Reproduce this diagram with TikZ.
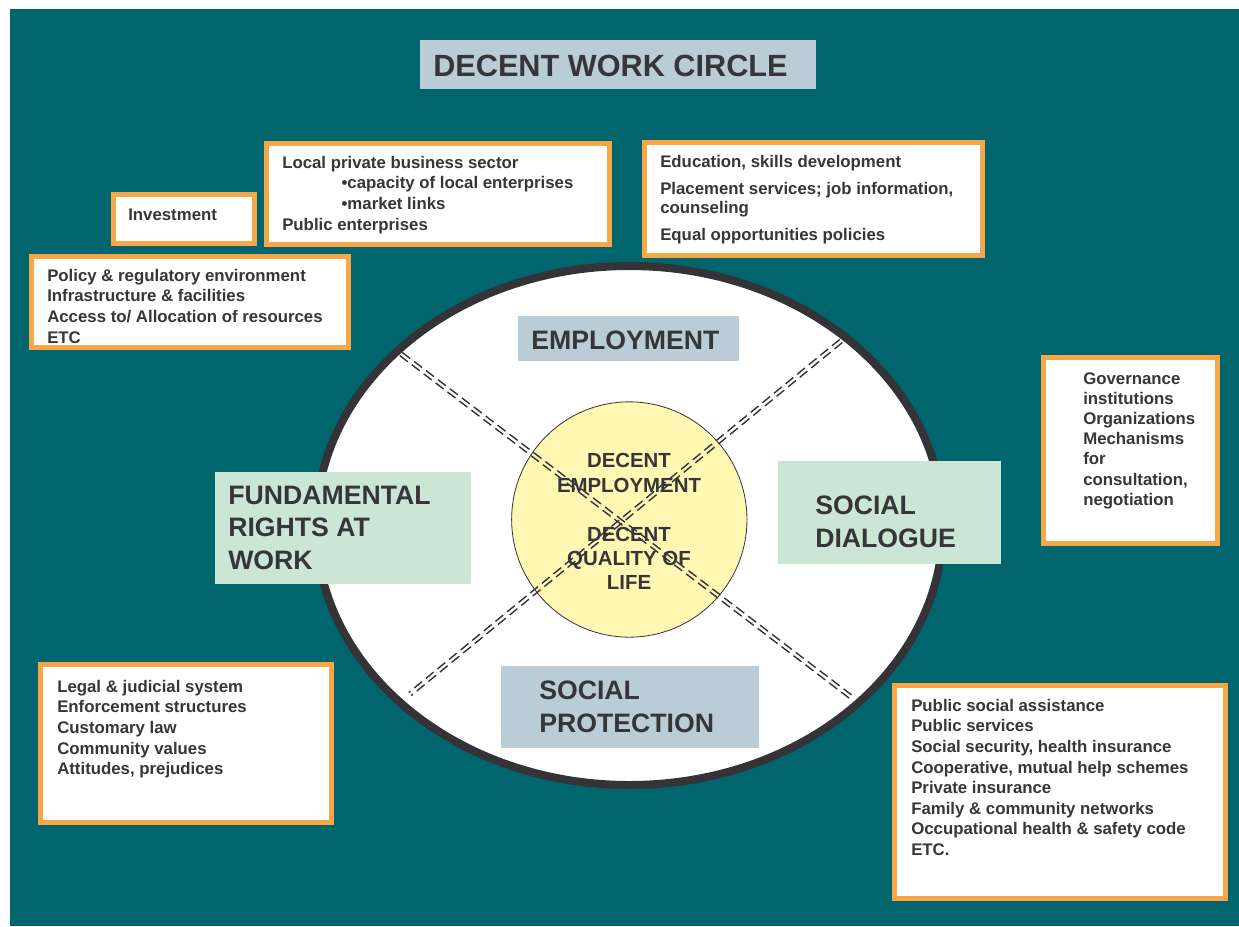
\documentclass[tikz,border=0pt]{standalone}
\usepackage{fontspec}
\setmainfont{Liberation Sans}
\usetikzlibrary{fit,shapes.geometric,calc}
\definecolor{teal0}{RGB}{0,101,108}
\definecolor{orng}{RGB}{247,166,72}
\definecolor{bgrey}{RGB}{186,205,215}
\definecolor{lgreen}{RGB}{204,230,214}
\definecolor{lyellow}{RGB}{255,247,178}
\definecolor{dtext}{RGB}{54,54,58}
\definecolor{dring}{RGB}{51,51,56}
\begin{document}
\begin{tikzpicture}[x=0.75pt,y=-0.75pt,
  obox/.style={draw=orng,line width=3.75pt,fill=white,inner sep=0pt},
  lbox/.style={inner sep=0pt,draw=none},
  btext/.style={text=dtext,inner sep=0pt,align=left,anchor=north west,
    font=\fontsize{12.6}{15.4}\selectfont\bfseries},
  ltext/.style={text=dtext,inner sep=0pt,align=left,anchor=north west,
    font=\fontsize{20}{24.2}\selectfont\bfseries},
  dl/.style={draw=dring,line width=1.05pt,dash pattern=on 7.5pt off 3.75pt}]
\useasboundingbox (0,0) rectangle (1239,926);
\fill[white] (0,0) rectangle (1239,926);
\fill[teal0] (10,9) rectangle (1239,926);

% outer ellipse
\node[ellipse,draw=dring,line width=6pt,fill=white,inner sep=0pt,
  minimum width=470.25pt,minimum height=389.25pt] (ring) at (629.5,525.5) {};

% core circle
\node[circle,fill=lyellow,draw=dring,line width=0.6pt,inner sep=0pt,
  minimum size=176.5pt] (core) at (629.3,519.5) {};

% dashed double diagonals
\coordinate (l1a) at (401,354);
\coordinate (l1b) at (851,697);
\coordinate (l2a) at (841,341);
\coordinate (l2b) at (410,694);
\draw[dl] ($(l1a)+(-1.2,1.6)$) -- ($(l1b)+(-1.2,1.6)$);
\draw[dl] ($(l1a)+(1.2,-1.6)$) -- ($(l1b)+(1.2,-1.6)$);
\draw[dl] ($(l2a)+(1.27,1.55)$) -- ($(l2b)+(1.27,1.55)$);
\draw[dl] ($(l2a)+(-1.27,-1.55)$) -- ($(l2b)+(-1.27,-1.55)$);

\node[text=dtext,inner sep=0pt,align=center,anchor=north,
  font=\fontsize{15.3}{18.3}\selectfont\bfseries] (coret) at (629,453.4)
  {DECENT\\EMPLOYMENT\\[18.3pt]DECENT\\QUALITY OF\\LIFE};

% title
\node[lbox,fill=bgrey,fit={(420,40) (816,89)}] (titlebox) {};
\node[text=dtext,inner sep=0pt,anchor=base west,
  font=\fontsize{23}{27}\selectfont\bfseries] (title) at (433,76) {DECENT WORK CIRCLE};

% inner labels
\node[lbox,fill=bgrey,fit={(518,316) (739,361)}] (empbox) {};
\node[text=dtext,inner sep=0pt,anchor=base west,
  font=\fontsize{20}{24}\selectfont\bfseries] (emp) at (531,349) {EMPLOYMENT};
\node[lbox,fill=lgreen,fit={(215,472) (471,584)}] (fundbox) {};
\node[ltext] (fund) at (228,485.9) {FUNDAMENTAL\\RIGHTS AT\\WORK};
\node[lbox,fill=lgreen,fit={(778,461) (1001,564)}] (sdbox) {};
\node[ltext,font=\fontsize{20}{24.6}\selectfont\bfseries] (sd) at (815,495.9) {SOCIAL\\DIALOGUE};
\node[lbox,fill=bgrey,fit={(501,666) (759,748)}] (spbox) {};
\node[ltext] (sp) at (539,680.9) {SOCIAL\\PROTECTION};

% orange boxes
\node[obox,fit={(113.5,194.5) (254.5,243.5)}] (invbox) {};
\node[btext,anchor=base west] (inv) at (128,220) {Investment};

\node[obox,fit={(266.5,143.5) (609.5,244.5)}] (locbox) {};
\node[btext] (loc) at (282,156) {Local private business sector\\
  \hspace*{44.5pt}•capacity of local enterprises\\
  \hspace*{44.5pt}•market links\\
  Public enterprises};

\node[obox,fit={(644.5,142.5) (982.5,255)}] (edubox) {};
\node[btext] (edu) at (660,155) {Education, skills development\\[4.6pt]
  Placement services; job information,\\[-0.8pt]
  counseling\\[4.6pt]
  Equal opportunities policies};

\node[obox,fit={(31,256) (348,347.5)}] (polbox) {};
\node[btext] (pol) at (47,269) {Policy \& regulatory environment\\
  Infrastructure \& facilities\\
  Access to/ Allocation of resources\\
  ETC};

\node[obox,fit={(1043.5,357.5) (1217.5,543)}] (govbox) {};
\node[btext,font=\fontsize{12.6}{15.15}\selectfont\bfseries] (gov) at (1083,372) {Governance\\institutions\\Organizations\\Mechanisms\\for\\consultation,\\negotiation};

\node[obox,fit={(40.5,664.5) (331.5,822)}] (legbox) {};
\node[btext] (leg) at (57,680) {Legal \& judicial system\\
  Enforcement structures\\
  Customary law\\
  Community values\\
  Attitudes, prejudices};

\node[obox,fit={(894.5,685.5) (1225,898.5)}] (pubbox) {};
\node[btext] (pub) at (911,699) {Public social assistance\\
  Public services\\
  Social security, health insurance\\
  Cooperative, mutual help schemes\\
  Private insurance\\
  Family \& community networks\\
  Occupational health \& safety code\\
  ETC.};
\end{tikzpicture}
\end{document}
